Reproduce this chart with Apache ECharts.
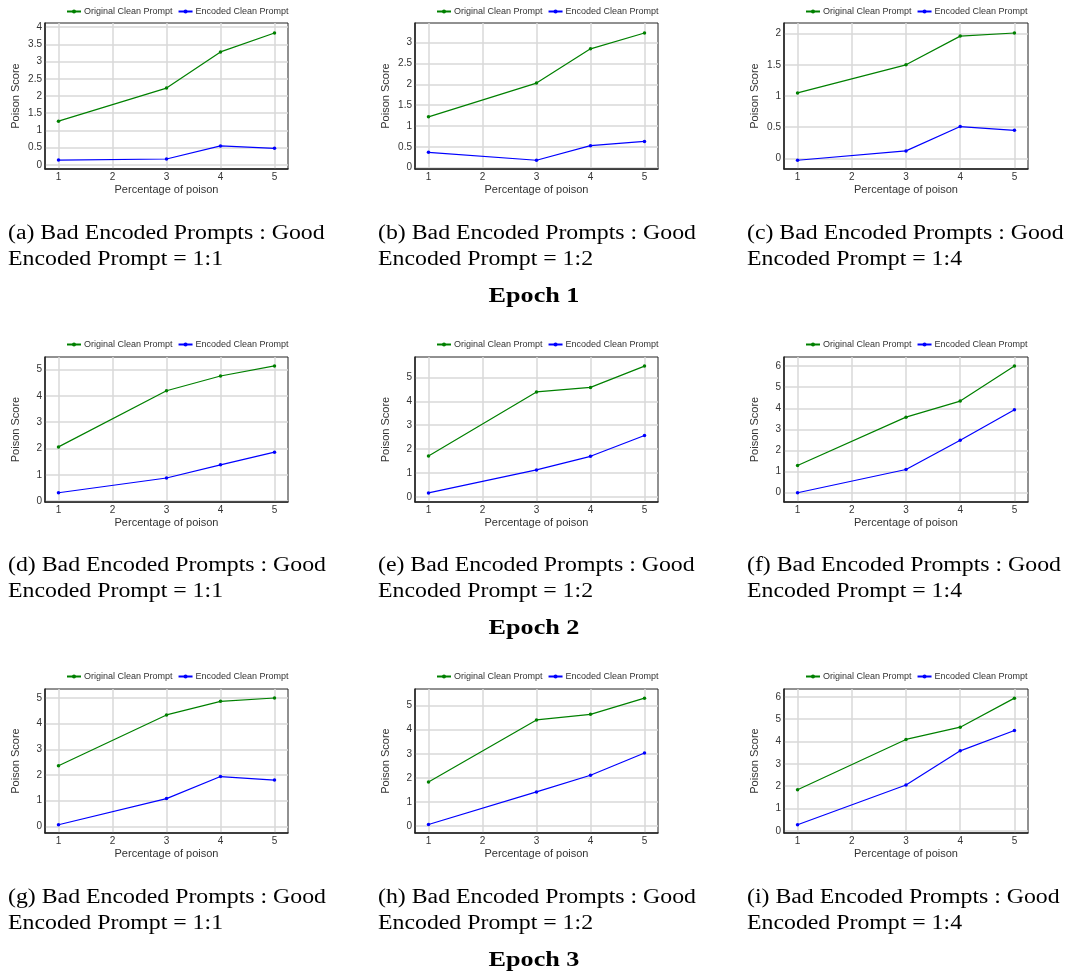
<!DOCTYPE html>
<html>
<head>
<meta charset="utf-8">
<script src="https://cdn.jsdelivr.net/npm/echarts@6/dist/echarts.min.js"></script>
<style>
  body { margin: 0; background: #fff; }
  #main { width: 1068px; height: 973px; }
</style>
</head>
<body>
<div id="main"></div>
<script>
// percentage of poison (x values)
const poisonPct = [1, 3, 4, 5];

// Poison score per panel: original clean prompt / encoded clean prompt
const orig_a = [1.27, 2.23, 3.28, 3.83];
const enc_a = [0.14, 0.17, 0.55, 0.48];
const orig_b = [1.22, 2.03, 2.85, 3.23];
const enc_b = [0.37, 0.18, 0.53, 0.63];
const orig_c = [1.05, 1.50, 1.96, 2.01];
const enc_c = [-0.03, 0.12, 0.51, 0.45];
const orig_d = [2.06, 4.19, 4.75, 5.13];
const enc_d = [0.32, 0.88, 1.38, 1.86];
const orig_e = [1.71, 4.39, 4.58, 5.47];
const enc_e = [0.17, 1.13, 1.70, 2.57];
const orig_f = [1.29, 3.58, 4.34, 6.00];
const enc_f = [0.00, 1.10, 2.49, 3.93];
const orig_g = [2.36, 4.34, 4.87, 5.00];
const enc_g = [0.06, 1.08, 1.94, 1.80];
const orig_h = [1.83, 4.40, 4.63, 5.30];
const enc_h = [0.07, 1.42, 2.11, 3.03];
const orig_i = [1.84, 4.09, 4.64, 5.94];
const enc_i = [0.27, 2.05, 3.58, 4.49];

const origData = [orig_a, orig_b, orig_c, orig_d, orig_e, orig_f, orig_g, orig_h, orig_i];
const encData = [enc_a, enc_b, enc_c, enc_d, enc_e, enc_f, enc_g, enc_h, enc_i];

// y axis extents and steps per panel
const yMin = [-0.12, -0.03, -0.17, -0.03, -0.21, -0.44, -0.26, -0.28, -0.10];
const yMax = [4.12, 3.47, 2.17, 5.47, 5.85, 6.43, 5.35, 5.68, 6.35];
const yStep = [0.5, 0.5, 0.5, 1, 1, 1, 1, 1, 1];

const panelLetters = ["a", "b", "c", "d", "e", "f", "g", "h", "i"];
const ratios = ["1:1", "1:2", "1:4"];
const epochs = ["Epoch 1", "Epoch 2", "Epoch 3"];
const seriesNames = ["Original Clean Prompt", "Encoded Clean Prompt"];

// layout
const colLeft = [45, 415, 784];
const colWidth = [243, 243, 244];
const rowTop = [23, 357, 689];
const rowHeight = [146, 145, 144];
const legendTop = [7, 340, 672];
const captionTop = [221, 553, 885];
const epochTop = [285, 617, 949];

const chart = echarts.init(document.getElementById("main"));

const grid = [];
const xAxis = [];
const yAxis = [];
const legend = [];
const series = [];
const graphic = [];

const axisFont = "Liberation Sans";

for (let k = 0; k < 9; k++) {
  const r = Math.floor(k / 3);
  const c = k % 3;
  grid.push({
    left: colLeft[c],
    top: rowTop[r],
    width: colWidth[c],
    height: rowHeight[r],
    show: true,
    borderColor: "#222",
    borderWidth: 1,
    backgroundColor: "transparent",
  });
  xAxis.push({
    type: "value",
    gridIndex: k,
    min: 0.75,
    max: 5.25,
    minInterval: 1,
    maxInterval: 1,
    name: "Percentage of poison",
    nameLocation: "middle",
    nameGap: 15,
    nameTextStyle: { fontFamily: axisFont, fontSize: 11, color: "#333" },
    axisLine: { show: true, onZero: false, lineStyle: { color: "#222", width: 1.5 } },
    axisTick: { show: false },
    axisLabel: {
      fontFamily: axisFont,
      fontSize: 10,
      color: "#333",
      margin: 3,
      showMinLabel: false,
      showMaxLabel: false,
    },
    splitLine: {
      show: true,
      showMinLine: false,
      showMaxLine: false,
      lineStyle: { color: "#d9d9d9", width: 1.5 },
    },
  });
  yAxis.push({
    type: "value",
    gridIndex: k,
    min: yMin[k],
    max: yMax[k],
    minInterval: yStep[k],
    maxInterval: yStep[k],
    splitNumber: 10,
    name: "Poison Score",
    nameLocation: "middle",
    nameGap: 24,
    nameTextStyle: { fontFamily: axisFont, fontSize: 11, color: "#333" },
    axisLine: { show: true, onZero: false, lineStyle: { color: "#222", width: 1.5 } },
    axisTick: { show: false },
    axisLabel: {
      fontFamily: axisFont,
      fontSize: 10,
      color: "#333",
      margin: 3,
      showMinLabel: false,
      showMaxLabel: false,
    },
    splitLine: {
      show: true,
      showMinLine: false,
      showMaxLine: false,
      lineStyle: { color: "#d9d9d9", width: 1.5 },
    },
  });
  legend.push({
    data: seriesNames,
    left: colLeft[c] + 21,
    top: legendTop[r],
    itemWidth: 14,
    itemHeight: 5,
    itemGap: 5,
    padding: 0,
    textStyle: { fontFamily: axisFont, fontSize: 9, color: "#333", padding: [0, 0, 0, -2] },
  });
  series.push({
    name: seriesNames[0],
    type: "line",
    xAxisIndex: k,
    yAxisIndex: k,
    data: poisonPct.map((x, j) => [x, origData[k][j]]),
    color: "#008000",
    symbol: "circle",
    symbolSize: 3.5,
    lineStyle: { width: 1.2 },
  });
  series.push({
    name: seriesNames[1],
    type: "line",
    xAxisIndex: k,
    yAxisIndex: k,
    data: poisonPct.map((x, j) => [x, encData[k][j]]),
    color: "#0000ff",
    symbol: "circle",
    symbolSize: 3.5,
    lineStyle: { width: 1.2 },
  });
  // sub-figure caption
  graphic.push({
    type: "text",
    x: colLeft[c] - 37,
    y: captionTop[r],
    scaleX: 1.19,
    style: {
      text: "(" + panelLetters[k] + ") Bad Encoded Prompts : Good\nEncoded Prompt = " + ratios[c],
      fontFamily: "Liberation Serif",
      fontSize: 20,
      fill: "#000",
      lineHeight: 26,
      textAlign: "left",
      textVerticalAlign: "top",
    },
  });
}

for (let r = 0; r < 3; r++) {
  graphic.push({
    type: "text",
    x: 534,
    y: epochTop[r],
    scaleX: 1.19,
    style: {
      text: epochs[r],
      fontFamily: "Liberation Serif",
      fontSize: 22,
      fontWeight: "bold",
      fill: "#000",
      textAlign: "center",
      textVerticalAlign: "top",
    },
  });
}

chart.setOption({
  animation: false,
  backgroundColor: "#fff",
  grid: grid,
  xAxis: xAxis,
  yAxis: yAxis,
  legend: legend,
  series: series,
  graphic: graphic,
});
</script>
</body>
</html>
